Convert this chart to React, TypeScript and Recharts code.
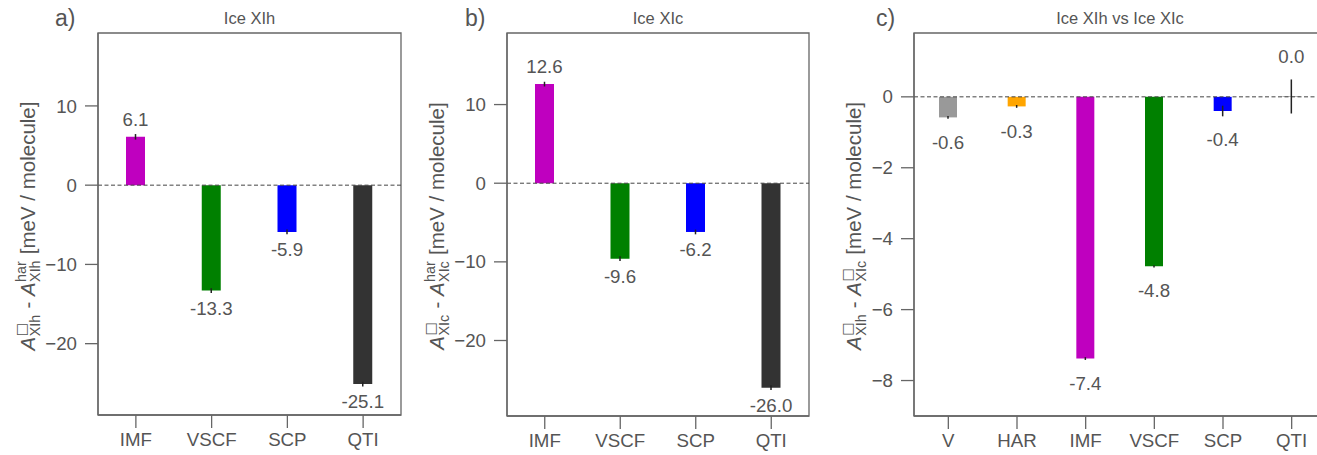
import React from 'react';
import { BarChart, Bar, XAxis, YAxis, ErrorBar, LabelList, ReferenceLine, ReferenceArea, Cell } from 'recharts';

// ---------- data ----------
const catsAB = ['IMF', 'VSCF', 'SCP', 'QTI'];
const valsA = [6.1, -13.3, -5.9, -25.1];
const errsA = [0.35, 0.3, 0.3, 0.3];
const valsB = [12.6, -9.6, -6.2, -26.0];
const errsB = [0.3, 0.3, 0.3, 0.3];
const colorsAB = ['#bf00bf', '#008000', '#0000ff', '#333333'];

const catsC = ['V', 'HAR', 'IMF', 'VSCF', 'SCP', 'QTI'];
const valsC = [-0.58, -0.27, -7.38, -4.78, -0.4, 0.01];
const errsC = [0.04, 0.04, 0.04, 0.03, 0.15, 0.48];
const colorsC = ['#999999', '#ffa500', '#bf00bf', '#008000', '#0000ff', '#333333'];

const ticksAB = [-20, -10, 0, 10];
const ticksC = [-8, -6, -4, -2, 0];
const domainA: [number, number] = [-29, 19.2];
const domainB: [number, number] = [-29.6, 19.1];
const domainC: [number, number] = [-9, 1.8];

// ---------- style ----------
const FONT = '"Liberation Sans", Arial, sans-serif';
const BOXFONT = '"DejaVu Sans", sans-serif';
const TXT = '#555555';
const AX = '#666666';
const FS = 18.7;
const BOX = '\u25a1';

const fmtTick = (v: number) => (v < 0 ? '\u2212' + Math.abs(v) : String(v));

const W: Record<string, number> = {
  A: 0.667, X: 0.667, I: 0.278, h: 0.556, c: 0.5, a: 0.556, r: 0.333, ' ': 0.278, '-': 0.333,
  '[': 0.278, ']': 0.278, m: 0.833, e: 0.556, V: 0.667, '/': 0.278, o: 0.556, l: 0.222, u: 0.556, '\u25a1': 0.6,
};
const tw = (s: string, fs: number) => s.split('').reduce((acc, ch) => acc + (W[ch] ?? 0.556) * fs, 0);

function YLabel({ bx, cy, sub1, sup1, sub2, sup2 }: { bx: number; cy: number; sub1: string; sup1: string; sub2: string; sup2: string }) {
  const fs = 20.5;
  const ss = 14.3;
  const wA = 0.667 * fs;
  const w1 = Math.max(tw(sub1, ss), tw(sup1, ss));
  const w2 = Math.max(tw(sub2, ss), tw(sup2, ss));
  const dash = ' - ';
  const rest = ' [meV / molecule]';
  const wd = tw(dash, fs);
  const wr = tw(rest, fs);
  const total = wA + w1 + wd + wA + w2 + wr;
  const x0 = -total / 2;
  const p = { fill: TXT, fontFamily: FONT, style: { whiteSpace: 'pre' as const } };
  const xs1 = x0 + wA + 0.5;
  const xd = x0 + wA + w1 + 1;
  const xA2 = xd + wd;
  const xs2 = xA2 + wA + 0.5;
  const xr = xA2 + wA + w2 + 1;
  const supFont = (s: string) => (s === BOX ? BOXFONT : FONT);
  return (
    <g transform={`translate(${bx},${cy}) rotate(-90)`}>
      <text {...p} x={x0} y={0} fontSize={fs} fontStyle="italic">A</text>
      <text {...p} x={xs1} y={5} fontSize={ss}>{sub1}</text>
      <text {...p} x={xs1} y={-9.5} fontSize={ss} fontFamily={supFont(sup1)}>{sup1}</text>
      <text {...p} x={xd} y={0} fontSize={fs}>{dash}</text>
      <text {...p} x={xA2} y={0} fontSize={fs} fontStyle="italic">A</text>
      <text {...p} x={xs2} y={5} fontSize={ss}>{sub2}</text>
      <text {...p} x={xs2} y={-9.5} fontSize={ss} fontFamily={supFont(sup2)}>{sup2}</text>
      <text {...p} x={xr} y={0} fontSize={fs}>{rest}</text>
    </g>
  );
}

type PanelProps = {
  cats: string[]; vals: number[]; errs: number[]; colors: string[];
  domain: [number, number]; ticks: number[];
  left: number; width: number; plotLeft: number; plotRight: number; plotBottom: number;
  barSize: number; labelBase: number;
};

const PLOT_TOP = 33;
const H = 455;

function Panel(props: PanelProps) {
  const { cats, vals, errs, colors, domain, ticks, left, width, plotLeft, plotRight, plotBottom, barSize, labelBase } = props;
  const data = cats.map((name, i) => ({ name, value: vals[i], err: errs[i] }));
  const pxPerUnit = (plotBottom - PLOT_TOP) / (domain[1] - domain[0]);
  const renderLabel = (lp: any) => {
    const { x, y, width: bw, height: bh, value, index } = lp;
    const v = Number(value);
    const top = Math.min(Number(y), Number(y) + Number(bh));
    const bottom = Math.max(Number(y), Number(y) + Number(bh));
    const cx = Number(x) + Number(bw) / 2;
    const e = errs[index] * pxPerUnit;
    const half = 6.7;
    const by = v >= 0 ? top - e - labelBase + half : bottom + e + labelBase + half;
    return (
      <text x={cx} y={by} textAnchor="middle" fill={TXT} fontSize={FS} fontFamily={FONT}>
        {v.toFixed(1)}
      </text>
    );
  };
  const tickStyle = { fill: TXT, fontSize: FS, fontFamily: FONT };
  const line = { stroke: AX, strokeWidth: 1.3 };
  return (
    <div style={{ position: 'absolute', left, top: 0 }}>
      <BarChart
        width={width}
        height={H}
        data={data}
        margin={{ top: PLOT_TOP, right: left + width - plotRight, bottom: 0, left: 0 }}
        barCategoryGap={0}
      >
        <XAxis
          dataKey="name"
          interval={0}
          tickSize={13}
          tickMargin={5}
          height={H - plotBottom}
          tick={tickStyle}
          axisLine={line}
          tickLine={line}
        />
        <YAxis
          type="number"
          domain={domain}
          ticks={ticks}
          allowDataOverflow
          width={plotLeft - left}
          tickSize={13}
          tickMargin={8}
          tickFormatter={fmtTick}
          tick={tickStyle}
          axisLine={line}
          tickLine={line}
        />
        <ReferenceArea
          x1={cats[0]}
          x2={cats[cats.length - 1]}
          y1={domain[0]}
          y2={domain[1]}
          fill="none"
          fillOpacity={0}
          stroke={AX}
          strokeWidth={1.3}
          ifOverflow="visible"
        />
        <ReferenceLine y={0} stroke="#444444" strokeWidth={1} strokeDasharray="4 2.5" />
        <Bar dataKey="value" barSize={barSize} isAnimationActive={false}>
          {data.map((d, i) => (
            <Cell key={d.name} fill={colors[i]} />
          ))}
          <ErrorBar dataKey="err" width={0} stroke="#222222" strokeWidth={1.5} direction="y" />
          <LabelList dataKey="value" content={renderLabel} />
        </Bar>
      </BarChart>
    </div>
  );
}

export default function App() {
  const t = { fill: TXT, fontFamily: FONT };
  return (
    <div style={{ position: 'absolute', left: 0, top: 0, width: 1317, height: 455, overflow: 'hidden', background: '#fff' }}>
      <Panel cats={catsAB} vals={valsA} errs={errsA} colors={colorsAB} domain={domainA} ticks={ticksAB}
        left={0} width={420} plotLeft={98} plotRight={401} plotBottom={415} barSize={19} labelBase={15} />
      <Panel cats={catsAB} vals={valsB} errs={errsB} colors={colorsAB} domain={domainB} ticks={ticksAB}
        left={420} width={400} plotLeft={507} plotRight={809} plotBottom={416} barSize={19} labelBase={15} />
      <Panel cats={catsC} vals={valsC} errs={errsC} colors={colorsC} domain={domainC} ticks={ticksC}
        left={830} width={500} plotLeft={914} plotRight={1326} plotBottom={416} barSize={18} labelBase={23} />
      <svg width={1317} height={455} style={{ position: 'absolute', left: 0, top: 0, pointerEvents: 'none' }}>
        <text {...t} x={249.5} y={24} fontSize={16.5} textAnchor="middle">Ice XIh</text>
        <text {...t} x={658} y={24} fontSize={16.5} textAnchor="middle">Ice XIc</text>
        <text {...t} x={1120} y={24} fontSize={16.5} textAnchor="middle">Ice XIh vs Ice XIc</text>
        <text {...t} x={55} y={26} fontSize={23}>a)</text>
        <text {...t} x={465} y={26} fontSize={23}>b)</text>
        <text {...t} x={876} y={26} fontSize={23}>c)</text>
        <YLabel bx={35} cy={227} sub1="XIh" sup1={BOX} sub2="XIh" sup2="har" />
        <YLabel bx={444} cy={227} sub1="XIc" sup1={BOX} sub2="XIc" sup2="har" />
        <YLabel bx={861} cy={227} sub1="XIh" sup1={BOX} sub2="XIc" sup2={BOX} />
      </svg>
    </div>
  );
}
